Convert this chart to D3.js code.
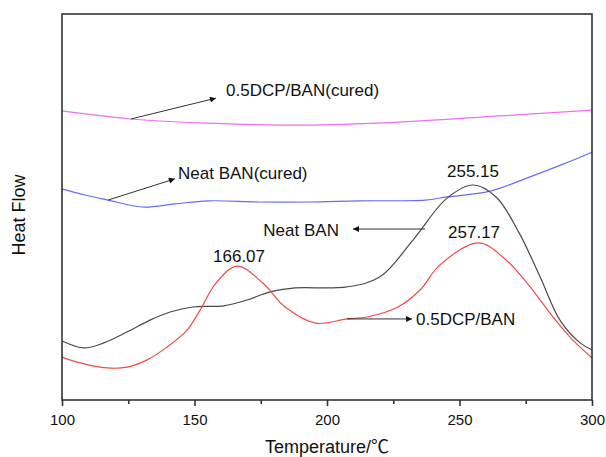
<!DOCTYPE html>
<html>
<head>
<meta charset="utf-8">
<script src="https://d3js.org/d3.v7.min.js"></script>
<style>
	body{margin:0;background:#fff;}
	text{font-family:"Liberation Sans", Arial, "Noto Sans CJK SC", sans-serif;fill:#111;}
</style>
</head>
<body>
<script>
(function(){
	//DSC curves, temperature in C and heat flow in arbitrary units
	var banT =[100, 108.3, 115.8, 124.5, 133.2, 140.8, 149.4, 161.1, 169.8, 178.5, 187.2, 207.5, 220, 232.5, 245.3, 255.15, 263.8, 272.5, 280.4, 287.9, 295.5, 300];
	var banHF =[15.3, 13.5, 14.8, 17.6, 20.7, 22.8, 24.1, 24.4, 25.9, 28.0, 29.0, 29.3, 31.9, 41.5, 52.3, 55.7, 52.6, 43.3, 31.9, 20.7, 14.8, 13.0];

	var dcpT =[100, 106.8, 117, 124.5, 132.1, 139.6, 147.2, 152.1, 158.1, 166.07, 175.8, 184.2, 195.8, 207.5, 215.1, 226.8, 235.1, 242.6, 257.17, 266.4, 275.5, 285.3, 292.8, 300];
	var dcpHF =[11.1, 9.6, 8.3, 8.5, 10.4, 13.7, 18.1, 23.3, 30.3, 34.7, 30.3, 24.1, 19.9, 21.0, 21.5, 24.1, 28.5, 35.0, 40.7, 37.0, 30.3, 21.5, 15.5, 10.9];

	var banCuredT =[100, 108.7, 117.4, 130.2, 142.6, 155.1, 174.7, 193.2, 212.5, 237, 245.3, 261.5, 276.6, 289.1, 300];
	var banCuredHF =[54.7, 53.1, 51.8, 50.0, 50.8, 51.6, 51.3, 51.3, 51.6, 51.8, 52.6, 54.1, 57.8, 61.1, 64.2];

	var dcpCuredT =[100, 126, 152.1, 190.2, 227.5, 265.3, 300];
	var dcpCuredHF =[74.9, 72.8, 71.8, 71.2, 72.0, 73.6, 75.1];

	var xTicks =[100, 150, 200, 250, 300];
	var xMinorTicks =[125, 175, 225, 275];

	//labels: text, x, y, anchor
	var labelText =["0.5DCP/BAN(cured)", "Neat BAN(cured)", "255.15", "257.17", "166.07", "Neat BAN", "0.5DCP/BAN"];
	var labelT =[161.9, 143.8, 255.1, 255.5, 166.8, 204.5, 233.6];
	var labelHF =[78.8, 57.3, 57.8, 42.0, 35.8, 42.5, 19.4];
	var labelAnchor =["start", "start", "middle", "middle", "middle", "end", "start"];

	//arrows: from (T1,HF1) to (T2,HF2)
	var arrowT1 =[126, 117.4, 237, 207.5];
	var arrowHF1 =[72.8, 51.8, 44.3, 21.0];
	var arrowT2 =[158.1, 142.6, 209.8, 232.1];
	var arrowHF2 =[78.2, 57.3, 44.3, 21.0];

	var width =606,
		height =457,
		left =62,
		right =592,
		top =14,
		bottom =400;

	var svg =d3.select("body")
		.append("svg")
		.attr("width", width)
		.attr("height", height);

	var x =d3.scaleLinear()
		.domain([100, 300])
		.range([left, right]);

	var y =d3.scaleLinear()
		.domain([0, 100])
		.range([bottom, top]);

	svg.append("defs")
		.append("marker")
		.attr("id", "head")
		.attr("viewBox", "0 0 10 10")
		.attr("refX", 10)
		.attr("refY", 5)
		.attr("markerWidth", 9)
		.attr("markerHeight", 6)
		.attr("markerUnits", "userSpaceOnUse")
		.attr("orient", "auto")
		.append("path")
		.attr("d", "M0,0L10,5L0,10Z")
		.attr("fill", "#111");

	var line =d3.line()
		.x(function(d){ return x(d[0]); })
		.y(function(d){ return y(d[1]); })
		.curve(d3.curveCatmullRom.alpha(0.5));

	var curves =[
		{t: dcpCuredT, hf: dcpCuredHF, color: "#f070f0"},
		{t: banCuredT, hf: banCuredHF, color: "#6a6af5"},
		{t: banT, hf: banHF, color: "#4a4a4a"},
		{t: dcpT, hf: dcpHF, color: "#f04a4a"}
	];

	svg.selectAll(".curve")
		.data(curves)
		.enter()
		.append("path")
		.attr("class", "curve")
		.attr("fill", "none")
		.attr("stroke", function(d){ return d.color; })
		.attr("stroke-width", 1.2)
		.attr("d", function(d){
			return line(d.t.map(function(t, i){ return [t, d.hf[i]]; }));
		});

	//frame
	svg.append("rect")
		.attr("x", left)
		.attr("y", top)
		.attr("width", right - left)
		.attr("height", bottom - top)
		.attr("fill", "none")
		.attr("stroke", "#333")
		.attr("stroke-width", 1.6);

	var xAxis =svg.append("g")
		.attr("transform", "translate(0," + bottom + ")")
		.call(d3.axisBottom(x)
			.tickValues(xTicks)
			.tickSize(6)
			.tickPadding(8)
			.tickFormat(d3.format("d")));
	xAxis.select(".domain").remove();
	xAxis.selectAll(".tick line").attr("stroke", "#333").attr("stroke-width", 1.6);
	xAxis.selectAll(".tick text")
		.attr("font-size", 15)
		.attr("font-family", "Liberation Sans, Arial, sans-serif")
		.attr("fill", "#111");

	var xMinor =svg.append("g")
		.attr("transform", "translate(0," + bottom + ")")
		.call(d3.axisBottom(x)
			.tickValues(xMinorTicks)
			.tickSize(4)
			.tickFormat(""));
	xMinor.select(".domain").remove();
	xMinor.selectAll(".tick line").attr("stroke", "#333").attr("stroke-width", 1.6);

	svg.append("text")
		.attr("x", (left + right) / 2)
		.attr("y", 453)
		.attr("text-anchor", "middle")
		.attr("font-size", 18)
		.text("Temperature/℃");

	svg.append("text")
		.attr("transform", "translate(25," + 215 + ")rotate(-90)")
		.attr("text-anchor", "middle")
		.attr("font-size", 18)
		.text("Heat Flow");

	svg.selectAll(".arrow")
		.data(arrowT1)
		.enter()
		.append("line")
		.attr("class", "arrow")
		.attr("x1", function(d){ return x(d); })
		.attr("y1", function(d, i){ return y(arrowHF1[i]); })
		.attr("x2", function(d, i){ return x(arrowT2[i]); })
		.attr("y2", function(d, i){ return y(arrowHF2[i]); })
		.attr("stroke", "#333")
		.attr("stroke-width", 1)
		.attr("marker-end", "url(#head)");

	svg.selectAll(".label")
		.data(labelText)
		.enter()
		.append("text")
		.attr("class", "label")
		.attr("x", function(d, i){ return x(labelT[i]); })
		.attr("y", function(d, i){ return y(labelHF[i]); })
		.attr("text-anchor", function(d, i){ return labelAnchor[i]; })
		.attr("font-size", 17)
		.text(function(d){ return d; });
})();
</script>
</body>
</html>
